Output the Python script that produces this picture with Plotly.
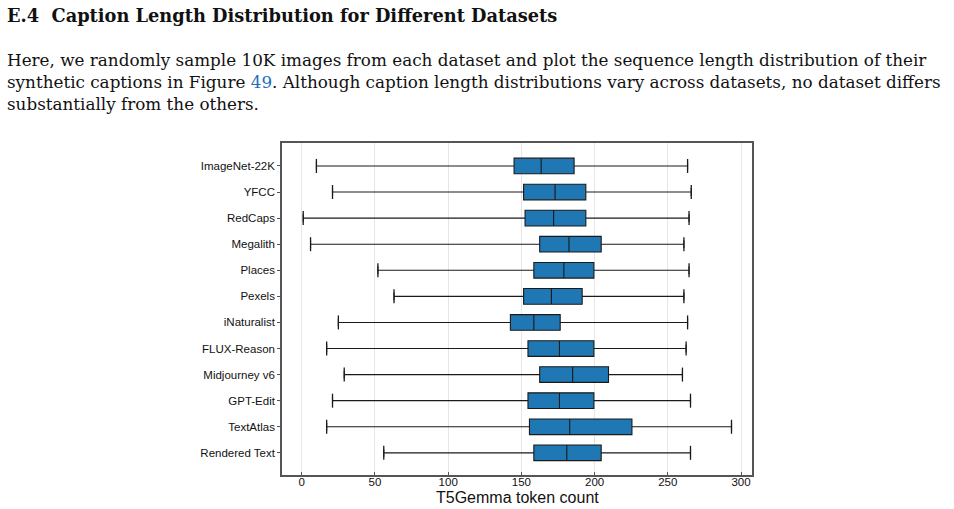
import plotly.graph_objects as go

categories = ["ImageNet-22K", "YFCC", "RedCaps", "Megalith", "Places", "Pexels",
              "iNaturalist", "FLUX-Reason", "Midjourney v6", "GPT-Edit", "TextAtlas",
              "Rendered Text"]
lower_whisker = [10, 21, 1, 6, 52, 63, 25, 17, 29, 21, 17, 56]
q1_values = [145, 151.5, 152.5, 162.5, 158.5, 151.5, 142.5, 154.5, 162.5, 154.5, 155.5, 158.5]
median_values = [163.5, 173, 172, 182.5, 179, 170.5, 158.5, 176, 185, 176, 183, 181]
q3_values = [186, 194, 194, 204.5, 199.5, 191.5, 176.5, 199.5, 209.5, 199.5, 225.5, 204.5]
upper_whisker = [263.5, 266, 264.5, 261, 264.5, 261, 263.5, 262.5, 260, 265.5, 293.5, 265.5]
x_ticks = [0, 50, 100, 150, 200, 250, 300]

W, H = 954, 509
L, R, T, B = 282, 752, 143, 475
pw, ph = R - L, B - T

def px(xp):
    return (xp - L) / pw

def py(yp):
    return (B - yp) / ph

fig = go.Figure()
fig.add_trace(go.Box(
    y=categories, q1=q1_values, median=median_values, q3=q3_values,
    lowerfence=lower_whisker, upperfence=upper_whisker,
    orientation="h", width=0.6,
    fillcolor="#1f77b4", line=dict(color="#1a1a1a", width=1.1),
    showlegend=False, hoverinfo="skip",
))
fig.add_trace(go.Scatter(
    x=lower_whisker + upper_whisker, y=categories + categories,
    mode="markers",
    marker=dict(symbol="line-ns", size=10, line=dict(color="#1a1a1a", width=1.3)),
    showlegend=False, hoverinfo="skip",
))

fig.update_xaxes(
    range=[-13.5, 307.5], tickvals=x_ticks, showgrid=True, gridcolor="#e6e6e6",
    gridwidth=1, zeroline=False, showline=True, linecolor="#555555", linewidth=1.5,
    mirror=True, ticks="inside", ticklen=3, tickcolor="#555555", automargin=False,
    ticklabelstandoff=-5,
    tickfont=dict(family="Liberation Sans", size=11.5, color="#111111"),
)
fig.update_yaxes(
    type="category", categoryorder="array", categoryarray=categories,
    range=[11.85, -0.88], showgrid=False, zeroline=False, showline=True,
    linecolor="#555555", linewidth=1.5, mirror=True, ticks="outside", ticklen=3,
    tickcolor="#555555", automargin=False,
    tickfont=dict(family="Liberation Sans", size=11.5, color="#111111"),
)

serif = "DejaVu Serif"
body = 16.8
annotations = [
    dict(text="<b>E.4  Caption Length Distribution for Different Datasets</b>",
         x=px(5), y=py(16), font=dict(family=serif, size=17.8, color="#111111")),
    dict(text="Here, we randomly sample 10K images from each dataset and plot the sequence length distribution of their",
         x=px(5), y=py(60), font=dict(family=serif, size=body, color="#111111")),
    dict(text="synthetic captions in Figure <span style='color:#1f6fc0'>49</span>. Although caption length distributions vary across datasets, no dataset differs",
         x=px(5), y=py(82), font=dict(family=serif, size=body, color="#111111")),
    dict(text="substantially from the others.",
         x=px(5), y=py(104), font=dict(family=serif, size=body, color="#111111")),
    dict(text="T5Gemma token count", x=0.5, y=py(497), xanchor="center",
         font=dict(family="Liberation Sans", size=16, color="#111111")),
]
for a in annotations:
    a.setdefault("xanchor", "left")
    a.update(xref="paper", yref="paper", yanchor="middle", showarrow=False)

fig.update_layout(
    width=W, height=H, margin=dict(l=L, r=W - R, t=T, b=H - B),
    paper_bgcolor="white", plot_bgcolor="white", annotations=annotations,
)

fig.write_html("out.html")
